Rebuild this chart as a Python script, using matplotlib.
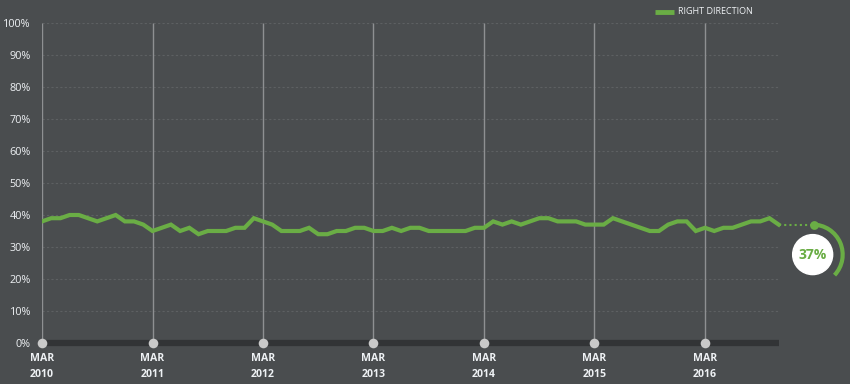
import matplotlib
matplotlib.use("Agg")
import matplotlib.pyplot as plt
from matplotlib.patches import Arc, Circle

plt.rcParams['font.family'] = ['Open Sans', 'DejaVu Sans']

# ---- data ----
series_name = "RIGHT DIRECTION"
right_direction = [
    38, 39, 39, 40, 40, 39, 38, 39, 40, 38, 38, 37,
    35, 36, 37, 35, 36, 34, 35, 35, 35, 36, 36, 39,
    38, 37, 35, 35, 35, 36, 34, 34, 35, 35, 36, 36,
    35, 35, 36, 35, 36, 36, 35, 35, 35, 35, 35, 36,
    36, 38, 37, 38, 37, 38, 39, 39, 38, 38, 38, 37,
    37, 37, 39, 38, 37, 36, 35, 35, 37, 38, 38, 35,
    36, 35, 36, 36, 37, 38, 38, 39, 37,
]
march_index = [0, 12, 24, 36, 48, 60, 72]
march_labels = ["MAR\n2010", "MAR\n2011", "MAR\n2012", "MAR\n2013",
                "MAR\n2014", "MAR\n2015", "MAR\n2016"]
y_ticks = [0, 10, 20, 30, 40, 50, 60, 70, 80, 90, 100]
y_labels = [f"{v}%" for v in y_ticks]
latest_label = "37%"
latest_fraction = 0.37

# ---- style ----
BG = '#4a4d4f'
GREEN = '#6aad45'
TXT = '#eef1f4'

W, H = 850, 384
fig = plt.figure(figsize=(W / 100, H / 100), dpi=100, facecolor=BG)

px_per_month = (705 - 42) / 72.0
ax = fig.add_axes([42 / W, (H - 343) / H, (W - 42) / W, (343 - 23) / H])
ax.set_facecolor(BG)
ax.set_xlim(0, (W - 42) / px_per_month)
ax.set_ylim(0, 100)
for s in ax.spines.values():
    s.set_visible(False)

n = len(right_direction)
xs = list(range(n))
last = n - 1

ax.hlines(y_ticks[1:], 0, last, colors='#5d6062', linestyles=(0, (2, 2)), lw=0.8, zorder=1)
ax.vlines(march_index, 0, 100, colors='#8e9092', lw=1.0, zorder=2)
ax.hlines(0, 0, last, colors='#323436', lw=4.5, zorder=3, clip_on=False)
ax.scatter(march_index, [0] * len(march_index), s=48, color='#c9c9c9', zorder=4,
           linewidths=0, clip_on=False)

ax.plot(xs, right_direction, color=GREEN, lw=3.0, zorder=5, solid_joinstyle='miter')

ax.set_yticks(y_ticks)
ax.set_yticklabels(y_labels, color=TXT, fontsize=7.8)
ax.tick_params(axis='y', length=0, pad=8)
ax.set_xticks(march_index)
ax.set_xticklabels(march_labels, color=TXT, fontsize=7.6, fontweight='bold', linespacing=1.7)
ax.tick_params(axis='x', length=0, pad=7)

# ---- overlay in pixel coordinates ----
ov = fig.add_axes([0, 0, 1, 1], facecolor='none')
ov.set_xlim(0, W)
ov.set_ylim(0, H)
ov.axis('off')

fig.canvas.draw()
xe, ye = ax.transData.transform((last, right_direction[-1]))
mx = xe + 35
ov.plot([xe, mx], [ye, ye], color=GREEN, lw=1.5, ls=(0, (1, 1.5)))
ov.scatter([mx], [ye], s=40, color=GREEN, zorder=6, linewidths=0)
cx, cy = mx - 1, ye - 30
ov.add_patch(Arc((cx, cy), 60, 60, theta1=90 - 360 * latest_fraction, theta2=90,
                 color=GREEN, lw=3.0))
ov.add_patch(Circle((cx, cy), 20, color='white', zorder=7))
ov.text(cx, cy, latest_label, color=GREEN, fontsize=10, fontweight='bold',
        ha='center', va='center', zorder=8)

# legend
ly = H - 12
ov.plot([655, 674], [ly, ly], color=GREEN, lw=3.5, solid_capstyle='butt')
ov.text(678, ly, series_name, color=TXT, fontsize=6.5, ha='left', va='center')

fig.savefig('out.png', dpi=100, facecolor=BG)
